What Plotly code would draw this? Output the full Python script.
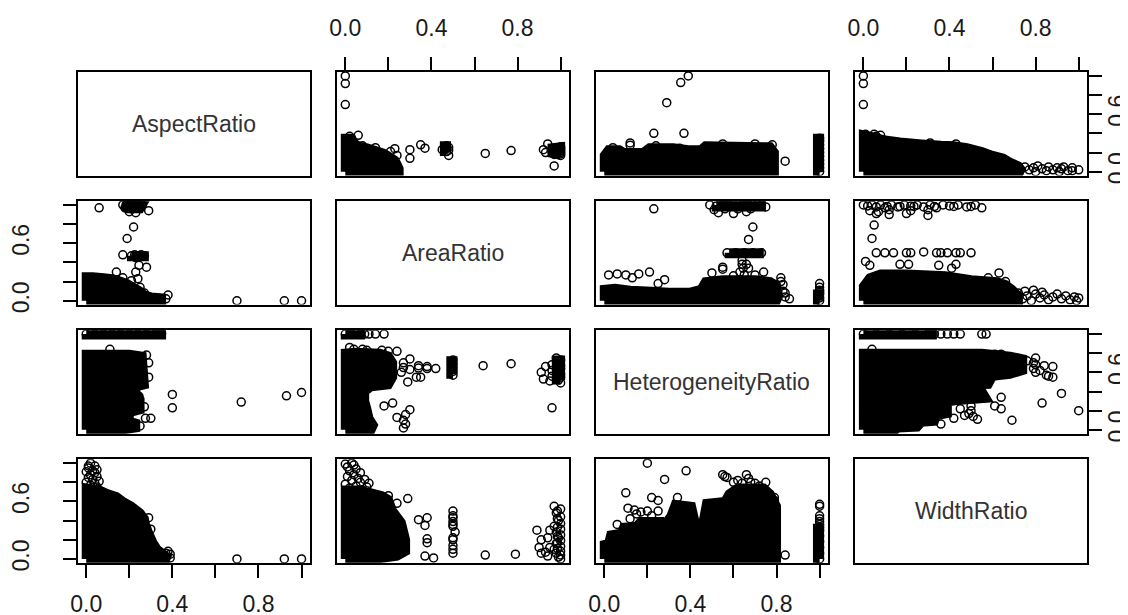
import plotly.graph_objects as go

# ---------------- variables / ticks ----------------
var_names = ["AspectRatio", "AreaRatio", "HeterogeneityRatio", "WidthRatio"]
tick_vals = [0.0, 0.2, 0.4, 0.6, 0.8, 1.0]
x_tick_text = ["0.0", "", "0.4", "", "0.8", ""]
y_tick_text = ["0.0", "", "", "0.6", "", ""]

# ---------------- AspectRatio (a) vs AreaRatio (r) ----------------
# dense cores (outline of the solid black masses of overlapping circles)
ar_core_a = [0.00, 0.35, 0.35, 0.30, 0.27, 0.25, 0.22, 0.19, 0.15, 0.12, 0.08, 0.03, 0.00]
ar_core_r = [0.00, 0.00, 0.03, 0.04, 0.06, 0.10, 0.14, 0.18, 0.21, 0.23, 0.24, 0.25, 0.25]
ar_top_a = [0.17, 0.26, 0.25, 0.19]
ar_top_r = [1.00, 1.00, 0.96, 0.96]
ar_mid_a = [0.21, 0.27, 0.27, 0.21]
ar_mid_r = [0.47, 0.47, 0.46, 0.46]
ar_points = [
    (0.70, 0.00), (0.92, 0.00), (1.00, 0.00), (0.38, 0.06), (0.37, 0.02),
    (0.06, 0.97), (0.29, 0.94), (0.22, 0.77), (0.19, 0.65), (0.17, 0.48),
    (0.245, 0.37), (0.28, 0.35), (0.23, 0.30), (0.24, 0.23), (0.21, 0.21),
    (0.25, 0.14), (0.27, 0.08), (0.14, 0.30), (0.17, 0.24),
    (0.17, 1.00), (0.185, 1.00), (0.20, 1.00), (0.215, 1.00), (0.23, 1.00),
    (0.245, 1.00), (0.26, 1.00), (0.18, 0.97), (0.21, 0.96), (0.24, 0.97),
    (0.20, 0.93), (0.23, 0.92),
    (0.21, 0.47), (0.225, 0.48), (0.24, 0.47), (0.255, 0.48), (0.27, 0.47), (0.23, 0.45),
]

# ---------------- AspectRatio (a) vs HeterogeneityRatio (h) ----------------
ah_core_a = [0.00, 0.00, 0.20, 0.26, 0.27, 0.23, 0.23, 0.25, 0.25, 0.20, 0.20, 0.23, 0.23, 0.17]
ah_core_h = [0.00, 0.79, 0.79, 0.77, 0.47, 0.45, 0.39, 0.32, 0.21, 0.18, 0.09, 0.07, 0.02, 0.00]
ah_bar_a = [0.00, 0.35, 0.35, 0.00]
ah_bar_h = [1.00, 1.00, 0.99, 0.99]
ah_points = [
    (0.93, 0.355), (1.00, 0.39), (0.72, 0.29), (0.40, 0.23), (0.40, 0.37),
    (0.30, 0.12), (0.11, 0.84), (0.27, 0.24), (0.275, 0.12), (0.25, 0.04),
    (0.245, 0.35), (0.29, 0.55), (0.29, 0.70), (0.28, 0.78),
    (0.00, 1.00), (0.04, 1.00), (0.08, 1.00), (0.12, 1.00), (0.16, 1.00),
    (0.20, 1.00), (0.24, 1.00), (0.28, 1.00), (0.32, 1.00), (0.35, 1.00),
]

# ---------------- AspectRatio (a) vs WidthRatio (w) ----------------
aw_core_a = [0.00, 0.385, 0.36, 0.33, 0.31, 0.29, 0.275, 0.27, 0.25, 0.21, 0.17, 0.14, 0.10, 0.06, 0.00]
aw_core_w = [0.00, 0.00, 0.05, 0.10, 0.17, 0.27, 0.36, 0.42, 0.48, 0.55, 0.60, 0.65, 0.68, 0.72, 0.74]
aw_points = [
    (0.70, 0.00), (0.92, 0.00), (1.00, 0.00), (0.02, 1.00), (0.04, 0.97), (0.01, 0.95),
    (0.05, 0.75), (0.02, 0.77), (0.04, 0.79), (0.00, 0.80), (0.06, 0.81), (0.03, 0.83),
    (0.01, 0.85), (0.05, 0.86), (0.02, 0.88), (0.04, 0.90), (0.00, 0.91), (0.03, 0.92),
    (0.05, 0.93), (0.01, 0.97),
    (0.29, 0.43), (0.30, 0.31), (0.37, 0.06), (0.39, 0.01), (0.39, 0.05), (0.38, 0.08),
]

# ---------------- AreaRatio (r) vs HeterogeneityRatio (h) ----------------
rh_core_r = [0.00, 0.00, 0.05, 0.16, 0.20, 0.22, 0.22, 0.20, 0.12, 0.09, 0.09, 0.10, 0.11, 0.13, 0.12]
rh_core_h = [0.00, 0.80, 0.81, 0.80, 0.77, 0.70, 0.55, 0.47, 0.45, 0.40, 0.30, 0.22, 0.12, 0.05, 0.00]
rh_top_r = [1.00, 1.00, 0.98, 0.98]
rh_top_h = [0.52, 0.73, 0.73, 0.52]
rh_mid_r = [0.50, 0.50, 0.49, 0.49]
rh_mid_h = [0.58, 0.72, 0.72, 0.58]
rh_bar_r = [0.00, 0.07, 0.07, 0.00]
rh_bar_h = [1.00, 1.00, 0.99, 0.99]
rh_points = [
    (1.00, 0.49), (0.99, 0.52), (1.00, 0.55), (1.00, 0.58), (0.99, 0.61), (1.00, 0.64),
    (1.00, 0.67), (0.99, 0.70), (1.00, 0.73), (0.98, 0.75), (0.95, 0.51), (0.96, 0.56),
    (0.96, 0.62), (0.96, 0.68), (0.92, 0.53), (0.91, 0.60), (0.93, 0.66),
    (0.77, 0.69), (0.64, 0.67), (0.96, 0.23),
    (0.50, 0.57), (0.50, 0.61), (0.50, 0.65), (0.50, 0.69), (0.50, 0.73),
    (0.42, 0.64), (0.38, 0.64), (0.34, 0.645), (0.30, 0.63), (0.27, 0.65),
    (0.30, 0.74), (0.34, 0.67), (0.38, 0.66), (0.33, 0.55), (0.29, 0.50), (0.18, 0.25),
    (0.22, 0.28), (0.24, 0.13), (0.30, 0.21), (0.28, 0.06), (0.27, 0.02), (0.27, 0.10),
    (0.28, 0.16), (0.35, 0.55), (0.26, 0.60), (0.27, 0.70),
    (0.20, 0.82), (0.10, 0.83), (0.24, 0.82), (0.04, 0.84), (0.02, 0.86), (0.08, 0.84), (0.17, 0.83),
    (0.00, 1.00), (0.03, 1.00), (0.07, 1.00), (0.09, 1.00), (0.11, 1.00), (0.14, 1.00), (0.18, 1.00),
]

# ---------------- AreaRatio (r) vs WidthRatio (w) ----------------
rw_core_r = [0.00, 0.00, 0.05, 0.12, 0.17, 0.20, 0.22, 0.26, 0.28, 0.28, 0.24, 0.15]
rw_core_w = [0.00, 0.72, 0.72, 0.69, 0.66, 0.62, 0.50, 0.38, 0.20, 0.08, 0.03, 0.00]
rw_points = [
    (0.08, 0.72), (0.02, 0.74), (0.05, 0.76), (0.00, 0.78), (0.07, 0.80), (0.03, 0.82),
    (0.06, 0.84), (0.01, 0.86), (0.04, 0.88), (0.07, 0.90), (0.02, 0.92), (0.05, 0.94),
    (0.01, 0.96), (0.04, 0.98), (0.03, 1.00), (0.00, 0.99), (0.10, 0.75), (0.11, 0.79), (0.09, 0.83),
    (1.00, 0.00), (0.99, 0.02), (1.00, 0.04), (0.98, 0.06), (1.00, 0.08), (0.97, 0.10),
    (1.00, 0.13), (0.98, 0.16), (1.00, 0.19), (0.99, 0.22), (1.00, 0.25), (0.98, 0.28),
    (1.00, 0.31), (0.97, 0.34), (1.00, 0.37), (0.99, 0.40), (1.00, 0.44), (0.98, 0.48),
    (1.00, 0.52), (0.97, 0.55), (0.94, 0.03), (0.93, 0.07), (0.95, 0.12), (0.94, 0.22),
    (0.95, 0.30), (0.91, 0.06), (0.90, 0.12), (0.91, 0.20), (0.89, 0.30),
    (0.985, 0.11), (0.985, 0.17), (0.985, 0.235), (0.985, 0.33), (0.985, 0.42), (0.985, 0.50),
    (0.79, 0.05), (0.65, 0.04),
    (0.50, 0.06), (0.50, 0.10), (0.50, 0.14), (0.50, 0.20), (0.50, 0.22), (0.51, 0.28),
    (0.50, 0.34), (0.50, 0.36), (0.50, 0.39), (0.50, 0.43), (0.50, 0.45), (0.50, 0.50),
    (0.41, 0.01), (0.38, 0.17), (0.38, 0.21), (0.37, 0.35), (0.38, 0.43), (0.29, 0.63),
    (0.37, 0.03), (0.34, 0.41), (0.24, 0.58), (0.20, 0.66),
]

# ---------------- HeterogeneityRatio (h) vs WidthRatio (w) ----------------
hw_core_h = [0.00, 0.80, 0.80, 0.77, 0.74, 0.62, 0.58, 0.56, 0.475, 0.46, 0.44, 0.42, 0.405,
             0.33, 0.31, 0.285, 0.27, 0.17, 0.15, 0.09, 0.08, 0.03, 0.02, 0.00]
hw_core_w = [0.00, 0.00, 0.55, 0.68, 0.74, 0.74, 0.68, 0.60, 0.58, 0.40, 0.30, 0.40, 0.55,
             0.57, 0.45, 0.37, 0.39, 0.39, 0.34, 0.33, 0.27, 0.25, 0.16, 0.15]
hw_bar_h = [1.00, 1.00, 0.99, 0.99]
hw_bar_w = [0.00, 0.32, 0.32, 0.00]
hw_points = [
    (1.00, 0.00), (1.00, 0.06), (1.00, 0.12), (1.00, 0.18), (1.00, 0.24), (1.00, 0.30),
    (1.00, 0.33), (1.00, 0.36), (1.00, 0.39), (1.00, 0.42), (1.00, 0.45), (1.00, 0.55), (1.00, 0.57),
    (0.20, 1.00), (0.38, 0.92), (0.28, 0.83), (0.10, 0.69), (0.22, 0.64), (0.34, 0.64),
    (0.11, 0.53), (0.17, 0.49), (0.15, 0.47),
    (0.79, 0.64), (0.72, 0.76), (0.68, 0.80), (0.67, 0.84), (0.66, 0.88), (0.57, 0.85),
    (0.55, 0.88), (0.56, 0.86), (0.75, 0.80), (0.79, 0.61), (0.62, 0.82), (0.70, 0.79),
    (0.64, 0.79), (0.60, 0.80),
    (0.25, 0.50), (0.20, 0.50), (0.14, 0.51), (0.25, 0.61), (0.84, 0.04),
    (0.22, 0.45), (0.12, 0.42), (0.06, 0.36),
]

# pair table: key (i, j) with i < j ; cores are lists of {var_index: values}
pairs = {
    (0, 1): {"core": [{0: ar_core_a, 1: ar_core_r}, {0: ar_top_a, 1: ar_top_r},
                      {0: ar_mid_a, 1: ar_mid_r}], "pts": ar_points},
    (0, 2): {"core": [{0: ah_core_a, 2: ah_core_h}, {0: ah_bar_a, 2: ah_bar_h}], "pts": ah_points},
    (0, 3): {"core": [{0: aw_core_a, 3: aw_core_w}], "pts": aw_points},
    (1, 2): {"core": [{1: rh_core_r, 2: rh_core_h}, {1: rh_top_r, 2: rh_top_h},
                      {1: rh_mid_r, 2: rh_mid_h}, {1: rh_bar_r, 2: rh_bar_h}], "pts": rh_points},
    (1, 3): {"core": [{1: rw_core_r, 3: rw_core_w}], "pts": rw_points},
    (2, 3): {"core": [{2: hw_core_h, 3: hw_core_w}, {2: hw_bar_h, 3: hw_bar_w}], "pts": hw_points},
}

# ---------------- layout geometry ----------------
FIG_W, FIG_H = 1128, 615
COL_X0 = [63, 323.7, 584.3, 845]
COL_W = 234
ROW_Y0 = [65, 196, 327, 458]
ROW_H = 105
FONT = "Liberation Sans, Arial, sans-serif"
TICK_FONT = dict(family=FONT, size=23, color="#1a1a1a")

fig = go.Figure()
layout = dict(
    width=FIG_W, height=FIG_H,
    margin=dict(l=0, r=0, t=0, b=0),
    paper_bgcolor="white", plot_bgcolor="white",
    showlegend=False,
)
annotations = []

for r in range(4):
    for c in range(4):
        k = r * 4 + c + 1
        xn = "xaxis" if k == 1 else f"xaxis{k}"
        yn = "yaxis" if k == 1 else f"yaxis{k}"
        xref = "x" if k == 1 else f"x{k}"
        yref = "y" if k == 1 else f"y{k}"
        x0 = COL_X0[c] / FIG_W
        x1 = (COL_X0[c] + COL_W) / FIG_W
        y1 = 1 - ROW_Y0[r] / FIG_H
        y0 = 1 - (ROW_Y0[r] + ROW_H) / FIG_H
        base = dict(range=[-0.04, 1.04], showgrid=False, zeroline=False,
                    showline=True, mirror=True, linecolor="black", linewidth=1.6,
                    ticks="", showticklabels=False, fixedrange=True,
                    tickvals=tick_vals)
        xa = dict(base, domain=[x0, x1], anchor=yref)
        ya = dict(base, domain=[y0, y1], anchor=xref)
        tick_common = dict(ticks="outside", ticklen=13, tickwidth=1.5, tickcolor="black",
                           showticklabels=True, tickfont=TICK_FONT)
        if r == 0 and c in (1, 3):
            xa.update(tick_common, side="top", ticktext=x_tick_text, ticklabelstandoff=12)
        if r == 3 and c in (0, 2):
            xa.update(tick_common, side="bottom", ticktext=x_tick_text, ticklabelstandoff=7)
        if c == 0 and r in (1, 3):
            ya.update(tick_common, side="left", ticktext=y_tick_text, tickangle=-90,
                      ticklabelstandoff=25)
        if c == 3 and r in (0, 2):
            ya.update(tick_common, side="right", ticktext=y_tick_text, tickangle=-90,
                      ticklabelstandoff=-5)
        layout[xn] = xa
        layout[yn] = ya

        if r == c:
            annotations.append(dict(x=0.5, y=0.5, xref=xref, yref=yref, text=var_names[r],
                                    showarrow=False,
                                    font=dict(family=FONT, size=23, color="#333333")))
            continue

        key = (min(r, c), max(r, c))
        d = pairs[key]
        # x is variable c, y is variable r
        for poly in d["core"]:
            cx = list(poly[c])
            cy = list(poly[r])
            cx.append(cx[0])
            cy.append(cy[0])
            fig.add_trace(go.Scatter(x=cx, y=cy, xaxis=xref, yaxis=yref, mode="lines",
                                     fill="toself", fillcolor="black",
                                     line=dict(color="black", width=9, simplify=False),
                                     hoverinfo="skip"))
        pts = d["pts"]
        if r < c:   # pair stored as (var r, var c)
            px = [p[1] for p in pts]
            py = [p[0] for p in pts]
        else:       # pair stored as (var c, var r)
            px = [p[0] for p in pts]
            py = [p[1] for p in pts]
        fig.add_trace(go.Scatter(x=px, y=py, xaxis=xref, yaxis=yref, mode="markers",
                                 marker=dict(symbol="circle-open", size=8, color="black",
                                             line=dict(width=1.5, color="black")),
                                 hoverinfo="skip"))

layout["annotations"] = annotations
fig.update_layout(**layout)
fig.write_html("out.html")
